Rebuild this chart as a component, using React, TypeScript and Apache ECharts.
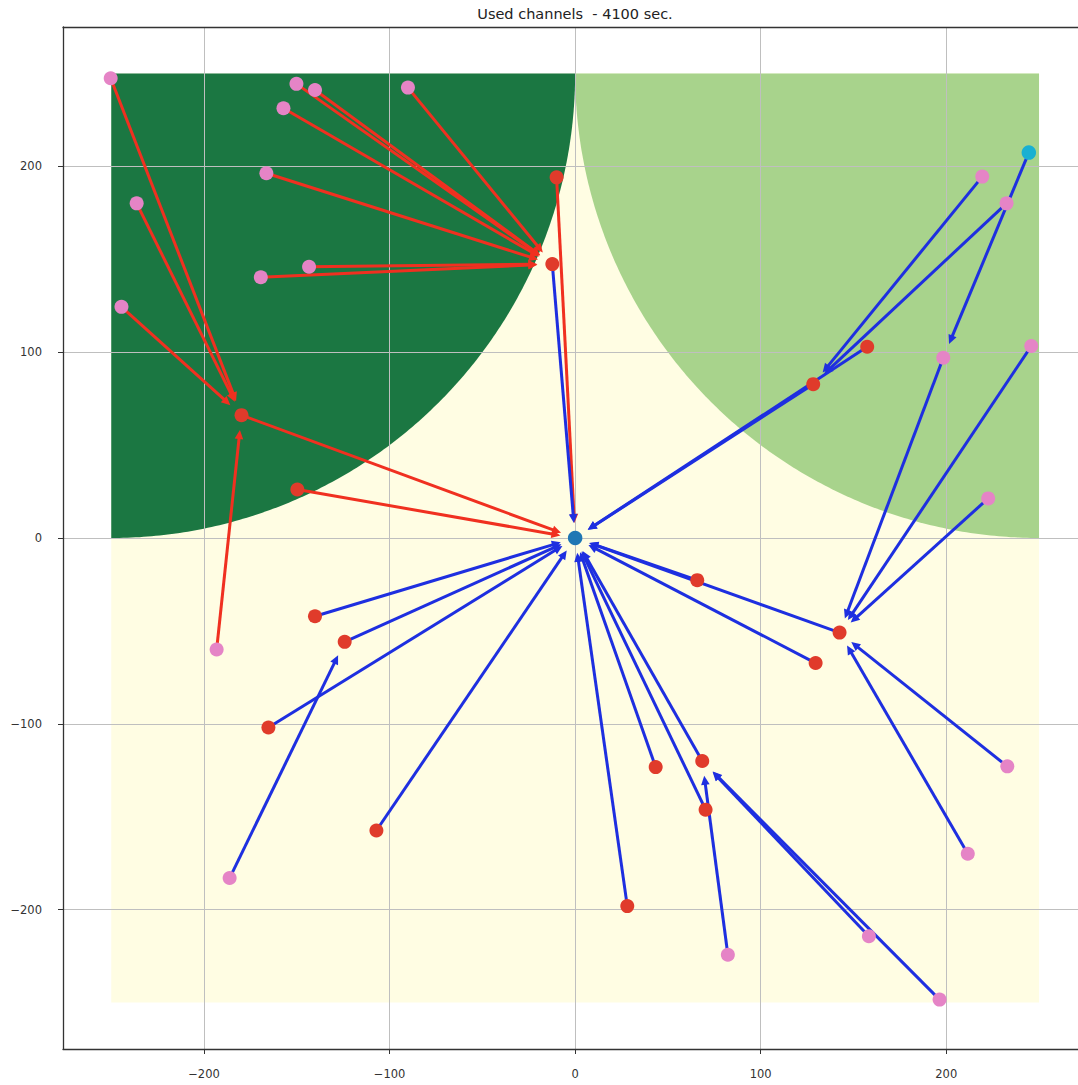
import React, { useEffect, useRef } from 'react';
import * as echarts from 'echarts';

const TITLE = 'Used channels  - 4100 sec.';
const X_MIN = -276;
const X_MAX = 271;
const Y_MIN = -275;
const Y_MAX = 275;
const tickValues = [-200, -100, 0, 100, 200];

// service field and the two coverage discs
const fieldExtent = [-250, 250];
const coverageCenters = [
  [-250, 250],
  [250, 250],
];
const coverageRadius = 250;

// stations (pink), relays (red), hub and moving node
const pinkPoints = [
  [-250.3, 247.4],
  [-150.2, 244.4],
  [-140.2, 241.1],
  [-90.1, 242.4],
  [-157.2, 231.3],
  [-166.4, 196.3],
  [-236.3, 180.1],
  [-143.4, 146.0],
  [-169.4, 140.3],
  [-244.5, 124.4],
  [-193.2, -60.0],
  [-186.2, -183.0],
  [219.4, 194.5],
  [232.5, 180.1],
  [198.4, 97.0],
  [245.8, 103.3],
  [222.6, 21.3],
  [232.9, -122.9],
  [211.6, -169.9],
  [158.3, -214.3],
  [82.3, -224.3],
  [196.4, -248.4],
];
const redPoints = [
  [-10.0, 194.1],
  [-12.3, 147.4],
  [-179.8, 66.1],
  [-149.7, 26.1],
  [128.3, 82.8],
  [157.4, 102.9],
  [65.8, -22.7],
  [142.5, -50.9],
  [129.6, -67.3],
  [-140.2, -42.1],
  [-124.2, -55.9],
  [-165.3, -102.0],
  [43.4, -123.3],
  [68.5, -120.0],
  [70.3, -146.2],
  [-107.1, -157.4],
  [28.1, -198.1],
];
const hubPoint = [0, 0];
const cyanPoint = [244.5, 207.4];

// links: [from, to]
const redLinks = [
  ['P0', 'R2'], ['P6', 'R2'], ['P9', 'R2'], ['P10', 'R2'],
  ['R2', 'H'], ['R3', 'H'], ['R0', 'H'],
  ['P1', 'R1'], ['P2', 'R1'], ['P3', 'R1'], ['P4', 'R1'],
  ['P5', 'R1'], ['P7', 'R1'], ['P8', 'R1'],
];
const blueLinks = [
  ['R1', 'H'], ['C', 'P14'], ['P12', 'R4'], ['P13', 'R4'], ['R5', 'H'], ['R4', 'H'],
  ['P14', 'R7'], ['P15', 'R7'], ['P16', 'R7'], ['P17', 'R7'], ['P18', 'R7'],
  ['R6', 'H'], ['R7', 'H'], ['R8', 'H'],
  ['P19', 'R13'], ['P20', 'R13'], ['P21', 'R13'],
  ['R12', 'H'], ['R13', 'H'], ['R14', 'H'], ['R16', 'H'],
  ['R9', 'H'], ['R10', 'H'], ['R11', 'H'], ['R15', 'H'],
  ['P11', 'R10'],
];

const CREAM = '#fffde3';
const coverageColors = ['#1b7742', '#a8d38c'];
const PINK = '#e584c6';
const RED = '#e03b2b';
const HUB = '#1f77b4';
const CYAN = '#19b0d2';
const ARROW_COLORS = ['#f03020', '#1e2fe0'];
const FONT = '"DejaVu Sans", sans-serif';

function pt(id: string): number[] {
  if (id === 'H') return hubPoint;
  if (id === 'C') return cyanPoint;
  const n = parseInt(id.slice(1), 10);
  return id[0] === 'P' ? pinkPoints[n] : redPoints[n];
}

const fmt = (v: number) => (v < 0 ? '\u2212' + Math.abs(v) : String(v));

export default function App() {
  const ref = useRef<HTMLDivElement>(null);

  useEffect(() => {
    if (!ref.current) return;
    const chart = echarts.init(ref.current, undefined, { renderer: 'svg' });

    const arrowData: number[][] = [];
    redLinks.forEach(([a, b]) => {
      const p = pt(a), q = pt(b);
      arrowData.push([p[0], p[1], q[0], q[1], 0]);
    });
    blueLinks.forEach(([a, b]) => {
      const p = pt(a), q = pt(b);
      arrowData.push([p[0], p[1], q[0], q[1], 1]);
    });

    const SHRINK = 15;
    const HEAD_LEN = 9;
    const HEAD_HW = 4.3;

    const axisCommon = {
      type: 'value' as const,
      axisLine: { show: true, onZero: false, lineStyle: { color: '#333', width: 1.3 } },
      axisTick: { show: true, customValues: tickValues, length: 5, lineStyle: { color: '#333', width: 1 } },
      axisLabel: {
        customValues: tickValues,
        formatter: fmt,
        fontFamily: FONT,
        fontSize: 11.5,
        color: '#333',
      },
      splitLine: { show: true, lineStyle: { color: '#bfbfbf', width: 1 } },
    };

    const option: any = {
      animation: false,
      grid: { left: 63, right: 0, top: 27, bottom: 36, containLabel: false },
      xAxis: [
        { ...axisCommon, min: X_MIN, max: X_MAX, position: 'bottom', axisLabel: { ...axisCommon.axisLabel, margin: 19 } },
        {
          type: 'value', min: X_MIN, max: X_MAX, position: 'top',
          axisLine: { show: true, onZero: false, lineStyle: { color: '#333', width: 1.3 } },
          axisTick: { show: false }, axisLabel: { show: false }, splitLine: { show: false },
        },
      ],
      yAxis: [
        { ...axisCommon, min: Y_MIN, max: Y_MAX, position: 'left', axisLabel: { ...axisCommon.axisLabel, margin: 21 } },
      ],
      graphic: [
        {
          type: 'text',
          x: 575,
          y: 14,
          style: {
            text: TITLE,
            font: '14.5px "DejaVu Sans", sans-serif',
            fill: '#222',
            textAlign: 'center',
            textVerticalAlign: 'middle',
            align: 'center',
            verticalAlign: 'middle',
          },
        },
      ],
      series: [
        {
          type: 'custom',
          z: -1,
          silent: true,
          data: [[0], [1], [2]],
          renderItem: (params: any, api: any) => {
            const idx = api.value(0);
            if (idx === 0) {
              const p1 = api.coord([fieldExtent[0], fieldExtent[1]]);
              const p2 = api.coord([fieldExtent[1], fieldExtent[0]]);
              return {
                type: 'rect',
                shape: { x: p1[0], y: p1[1], width: p2[0] - p1[0], height: p2[1] - p1[1] },
                style: { fill: CREAM },
              };
            }
            const c = coverageCenters[idx - 1];
            const a0 = Math.atan2(0, -c[0]);
            let a1 = Math.atan2(-c[1], 0);
            if (c[0] > 0) a1 += Math.PI * 2;
            const pts = [api.coord(c)];
            const N = 180;
            for (let i = 0; i <= N; i++) {
              const a = a0 + ((a1 - a0) * i) / N;
              pts.push(api.coord([c[0] + coverageRadius * Math.cos(a), c[1] + coverageRadius * Math.sin(a)]));
            }
            return { type: 'polygon', shape: { points: pts }, style: { fill: coverageColors[idx - 1] } };
          },
        },
        {
          type: 'custom',
          z: 3,
          silent: true,
          encode: { x: [0, 2], y: [1, 3] },
          data: arrowData,
          renderItem: (params: any, api: any) => {
            const a = api.coord([api.value(0), api.value(1)]);
            const b = api.coord([api.value(2), api.value(3)]);
            const color = ARROW_COLORS[api.value(4)];
            const dx = b[0] - a[0];
            const dy = b[1] - a[1];
            const len = Math.hypot(dx, dy) || 1;
            const ux = dx / len;
            const uy = dy / len;
            const tip = [b[0] - ux * SHRINK, b[1] - uy * SHRINK];
            const base = [tip[0] - ux * HEAD_LEN, tip[1] - uy * HEAD_LEN];
            const nx = -uy;
            const ny = ux;
            return {
              type: 'group',
              children: [
                {
                  type: 'line',
                  shape: { x1: a[0], y1: a[1], x2: base[0] + ux * 2, y2: base[1] + uy * 2 },
                  style: { stroke: color, lineWidth: 3 },
                },
                {
                  type: 'polygon',
                  shape: {
                    points: [
                      tip,
                      [base[0] + nx * HEAD_HW, base[1] + ny * HEAD_HW],
                      [base[0] - nx * HEAD_HW, base[1] - ny * HEAD_HW],
                    ],
                  },
                  style: { fill: color },
                },
              ],
            };
          },
        },
        {
          type: 'scatter',
          z: 4,
          symbolSize: 14,
          data: pinkPoints,
          itemStyle: { color: PINK, opacity: 1 },
        },
        {
          type: 'scatter',
          z: 5,
          symbolSize: 14,
          data: redPoints,
          itemStyle: { color: RED, opacity: 1 },
        },
        {
          type: 'scatter',
          z: 6,
          symbolSize: 14.5,
          data: [hubPoint],
          itemStyle: { color: HUB, opacity: 1 },
        },
        {
          type: 'scatter',
          z: 6,
          symbolSize: 14.5,
          data: [cyanPoint],
          itemStyle: { color: CYAN, opacity: 1 },
        },
      ],
    };

    chart.setOption(option);
    return () => chart.dispose();
  }, []);

  return (
    <div
      ref={ref}
      style={{ position: 'absolute', left: 0, top: 0, width: 1078, height: 1085, background: '#fff' }}
    />
  );
}
